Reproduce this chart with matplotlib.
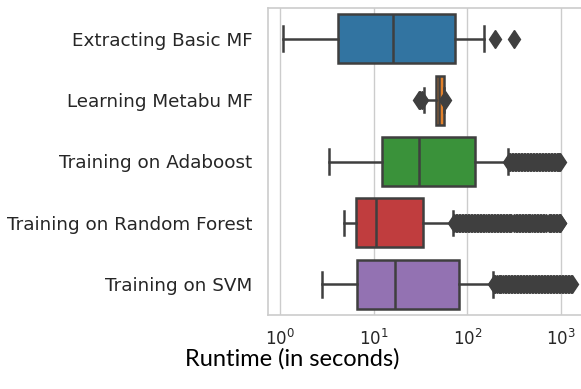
import matplotlib
matplotlib.use('Agg')
import matplotlib.pyplot as plt

# 各阶段名称
labels = ['Extracting Basic MF', 'Learning Metabu MF', 'Training on Adaboost',
          'Training on Random Forest', 'Training on SVM']

# 箱线图统计量 (秒)
whislo = [1.07, 34.7, 3.36, 4.86, 2.79]
q1 = [4.2, 45.8, 12.2, 6.4, 6.7]
med = [16.2, 50.0, 30.7, 10.6, 16.9]
q3 = [73.8, 56.3, 120.0, 33.8, 81.5]
whishi = [151.0, 56.3, 273.0, 70.8, 189.0]

# 离群点
fliers_basic = [199.0, 315.0]
fliers_metabu = [30.7, 31.5, 32.5, 57.5]
fliers_ada = [278, 285, 296, 307, 319, 331, 343, 356, 370, 384, 398, 413, 429,
              445, 462, 480, 498, 517, 536, 557, 578, 600, 622, 646, 670, 696,
              722, 750, 778, 807, 838, 870, 903, 937, 960, 975]
fliers_rf = [72, 75, 78, 81, 84, 87, 90, 94, 97, 101, 105, 109, 113, 117, 122,
             126, 131, 136, 141, 147, 152, 158, 164, 170, 177, 183, 190, 198,
             205, 213, 221, 229, 238, 247, 256, 266, 276, 286, 295,
             318, 330, 342, 355, 368, 382, 396, 410, 425, 440, 456, 470, 484,
             515, 530, 550, 571, 592, 614, 637, 660, 684,
             735, 760, 788, 817, 847, 878, 910, 940, 962, 975]
fliers_svm = [192, 199, 207, 215, 223, 231, 240, 249, 258, 268, 278, 289, 300,
              311, 323, 335, 348, 361, 374, 389, 403, 419, 434, 451, 468, 485,
              504, 523, 542, 563, 584, 606, 629, 653, 678, 703, 730, 757, 786,
              816, 847, 879, 912, 946, 982, 1019, 1058, 1098, 1139, 1182, 1227,
              1273, 1300]
fliers = [fliers_basic, fliers_metabu, fliers_ada, fliers_rf, fliers_svm]

colors = ['#3274a1', '#e1812c', '#3a923a', '#c03d3e', '#9372b2']
line_c = '#3f3f3f'

stats = []
for i in range(len(labels)):
    stats.append(dict(label=labels[i], whislo=whislo[i], q1=q1[i], med=med[i],
                      q3=q3[i], whishi=whishi[i], fliers=fliers[i]))

fig = plt.figure(figsize=(5.81, 3.89), dpi=100)
ax = fig.add_axes([268 / 581, 1 - 315 / 389, (590 - 268) / 581, (315 - 8) / 389])

lw = 1.8
bp = ax.bxp(stats, positions=range(len(labels)), widths=0.8,
            orientation='horizontal', patch_artist=True,
            boxprops=dict(edgecolor=line_c, linewidth=lw),
            whiskerprops=dict(color=line_c, linewidth=lw),
            capprops=dict(color=line_c, linewidth=lw),
            medianprops=dict(color=line_c, linewidth=lw),
            flierprops=dict(marker='d', markersize=9.5, markerfacecolor=line_c,
                            markeredgecolor=line_c, linestyle='none'))
for patch, c in zip(bp['boxes'], colors):
    patch.set_facecolor(c)

ax.set_xscale('log')
ax.set_xlim(10 ** ((268 - 280) / 93.7), 10 ** ((590 - 280) / 93.7))
ax.set_ylim(4.5, -0.5)
ax.set_yticks(range(len(labels)))
ax.set_yticklabels(labels, fontsize=13.2, color='#262626')
ax.tick_params(axis='y', length=0, pad=11)
ax.tick_params(axis='x', length=0, labelsize=12, colors='#262626', pad=10)
ax.xaxis.set_minor_locator(matplotlib.ticker.NullLocator())
ax.grid(axis='x', color='#cccccc', linewidth=1)
ax.set_axisbelow(True)
for s in ax.spines.values():
    s.set_color('#cccccc')
    s.set_linewidth(1.2)

fig.text(292 / 581, 1 - 366 / 389, 'Runtime (in seconds)', ha='center',
         va='baseline', fontsize=17, family='Lato', color='black')

plt.savefig('out.png', dpi=100)
